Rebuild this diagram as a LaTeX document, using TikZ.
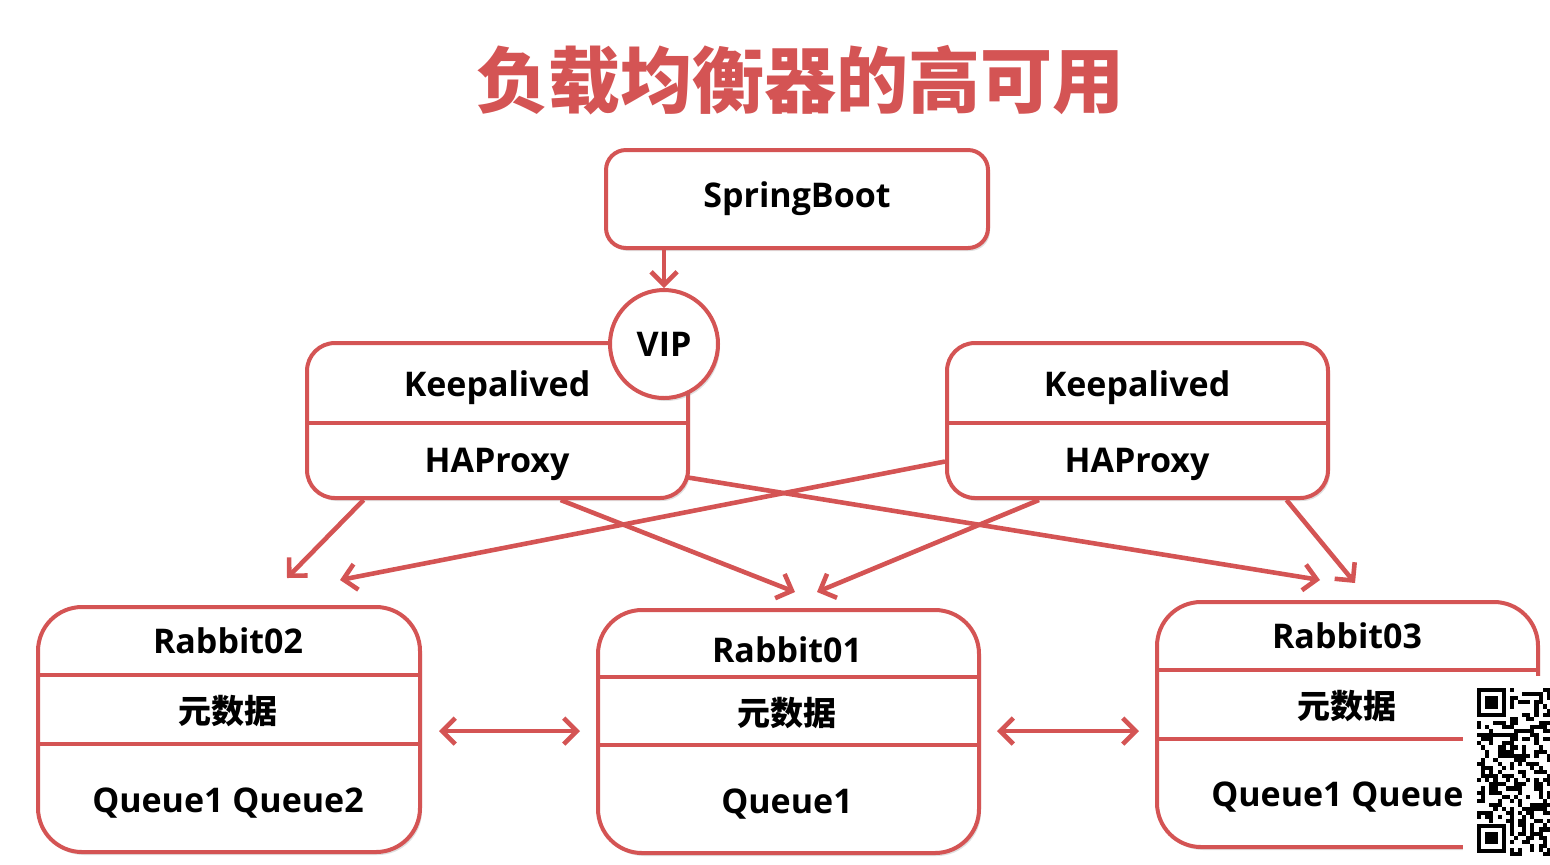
\documentclass[tikz,border=0pt]{standalone}
\usepackage{fontspec}
\setmainfont{Open Sans}
\newfontfamily\cjk{Noto Sans CJK SC}
\usetikzlibrary{arrows.meta,shadows,calc}
\definecolor{lbred}{RGB}{212,84,84}
\tikzset{
  box/.style={draw=lbred, line width=2pt, fill=white, rounded corners=#1,
    drop shadow={shadow xshift=1pt, shadow yshift=-1.5pt, opacity=0.25}},
  box/.default=12pt,
  divider/.style={draw=lbred, line width=2.2pt},
  lbl/.style={font=\fontsize{17}{19}\selectfont\bfseries, inner sep=0pt, text height=14.6pt, text depth=2.5pt},
  cjklbl/.style={lbl, font=\cjk\fontsize{16.5}{19}\selectfont\bfseries},
  arr/.style={draw=lbred, line width=2.3pt, -{Straight Barb[length=6.5pt,width=13pt]}},
  darr/.style={draw=lbred, line width=2.3pt, {Straight Barb[length=6.5pt,width=13pt]}-{Straight Barb[length=6.5pt,width=13pt]}}
}

\begin{document}
\begin{tikzpicture}[x=0.5pt,y=-0.5pt]
			\useasboundingbox (0,0) rectangle (1550,864);
			% title
			\node[font=\cjk\fontsize{36}{40}\selectfont\bfseries, text=lbred, inner sep=0pt] (title) at (800,80) {负载均衡器的高可用};
			% boxes
			\node[box=10pt, minimum width=191pt, minimum height=49pt] (spring) at (797,199) {};
			\node[box=14pt, minimum width=190.5pt, minimum height=77.5pt] (kal) at (497.5,420.5) {};
			\node[box=14pt, minimum width=190.5pt, minimum height=77.5pt] (kar) at (1137.5,420.5) {};
			\node[box=22pt, minimum width=191pt, minimum height=122.5pt] (r02) at (229,729.5) {};
			\node[box=22pt, minimum width=190.5pt, minimum height=121.5pt] (r01) at (788.5,731.5) {};
			\node[box=22pt, minimum width=190.5pt, minimum height=122.5pt] (r03) at (1347.5,724.5) {};
			% dividers
			\draw[divider] ($(kal.west)+(0,2.5)$) -- ($(kal.east)+(0,2.5)$);
			\draw[divider] ($(kar.west)+(0,2.5)$) -- ($(kar.east)+(0,2.5)$);
			\draw[divider] ($(r02.west)+(0,-54.5)$) -- ($(r02.east)+(0,-54.5)$);
			\draw[divider] ($(r02.west)+(0,14.5)$) -- ($(r02.east)+(0,14.5)$);
			\draw[divider] ($(r01.west)+(0,-54.5)$) -- ($(r01.east)+(0,-54.5)$);
			\draw[divider] ($(r01.west)+(0,13.5)$) -- ($(r01.east)+(0,13.5)$);
			\draw[divider] ($(r03.west)+(0,-54.5)$) -- ($(r03.east)+(0,-54.5)$);
			\draw[divider] ($(r03.west)+(0,14.5)$) -- ($(r03.east)+(0,14.5)$);
			% VIP on top of the left box
			\node[circle, draw=lbred, line width=2pt, fill=white, minimum size=54pt, inner sep=0pt,
			  drop shadow={shadow xshift=1pt, shadow yshift=-1.5pt, opacity=0.25}] (vip) at (664,344) {};
			% labels
			\node[lbl] (springtxt) at (797,195) {SpringBoot};
			\node[lbl] (viptxt) at (664,344) {VIP};
			\node[lbl] (kaltop) at (497,384) {Keepalived};
			\node[lbl] (kalbot) at (497,460) {HAProxy};
			\node[lbl] (kartop) at (1137,384) {Keepalived};
			\node[lbl] (karbot) at (1137,460) {HAProxy};
			\node[lbl] (r02name) at (228,641) {Rabbit02};
			\node[cjklbl] (r02meta) at (228,711) {元数据};
			\node[lbl] (r02q) at (228,800) {Queue1 Queue2};
			\node[lbl] (r01name) at (787,650) {Rabbit01};
			\node[cjklbl] (r01meta) at (787,713) {元数据};
			\node[lbl] (r01q) at (787,801) {Queue1};
			\node[lbl] (r03name) at (1347,636) {Rabbit03};
			\node[cjklbl] (r03meta) at (1347,706) {元数据};
			\node[lbl] (r03q) at (1347,794) {Queue1 Queue2};
			% arrow tips
			\coordinate (t1) at (287,578);
			\coordinate (t2) at (340,580);
			\coordinate (t3) at (795,592);
			\coordinate (t4) at (817,592);
			\coordinate (t5) at (1320,580);
			\coordinate (t6) at (1355,583);
			% connectors
			\draw[arr] (spring.south -| vip) -- (vip.north);
			\draw[arr] ($(kal.south west)!0.152!(kal.south east)$) -- (t1);
			\draw[arr] ($(kar.west)+(0,41)$) -- (t2);
			\draw[arr] ($(kal.south west)!0.664!(kal.south east)$) -- (t3);
			\draw[arr] ($(kar.south west)!0.244!(kar.south east)$) -- (t4);
			\draw[arr] ($(kal.east)+(-2,57)$) -- (t5);
			\draw[arr] ($(kar.south west)!0.887!(kar.south east)$) -- (t6);
			\draw[darr] ($(r02.east)+(17,1.5)$) -- ($(r01.west)+(-16,-0.5)$);
			\draw[darr] ($(r01.east)+(16,-0.5)$) -- ($(r03.west)+(-16,6.5)$);
			% QR code overlay
			\fill[white] (1463,676) rectangle (1550,864);
			\pgfmathsetseed{7}
			\foreach \i in {0,...,17} {
				\foreach \j in {0,...,40} {
					\pgfmathsetmacro{\r}{rnd}
					\ifnum\i<8 \ifnum\j<8 \def\r{0}\fi \ifnum\j>32 \def\r{0}\fi \fi
					\ifdim\r pt>0.5pt
						\fill[black] (1477+4.1*\i,688+4.1*\j) rectangle ++(4.1,4.1);
					\fi
				}
			}
			\foreach \fy in {688,823.9} {
				\fill[black] (1477,\fy) rectangle ++(28.7,28.7);
				\fill[white] (1481.1,\fy+4.1) rectangle ++(20.5,20.5);
				\fill[black] (1485.2,\fy+8.2) rectangle ++(12.3,12.3);
			}
		\end{tikzpicture}
\end{document}
